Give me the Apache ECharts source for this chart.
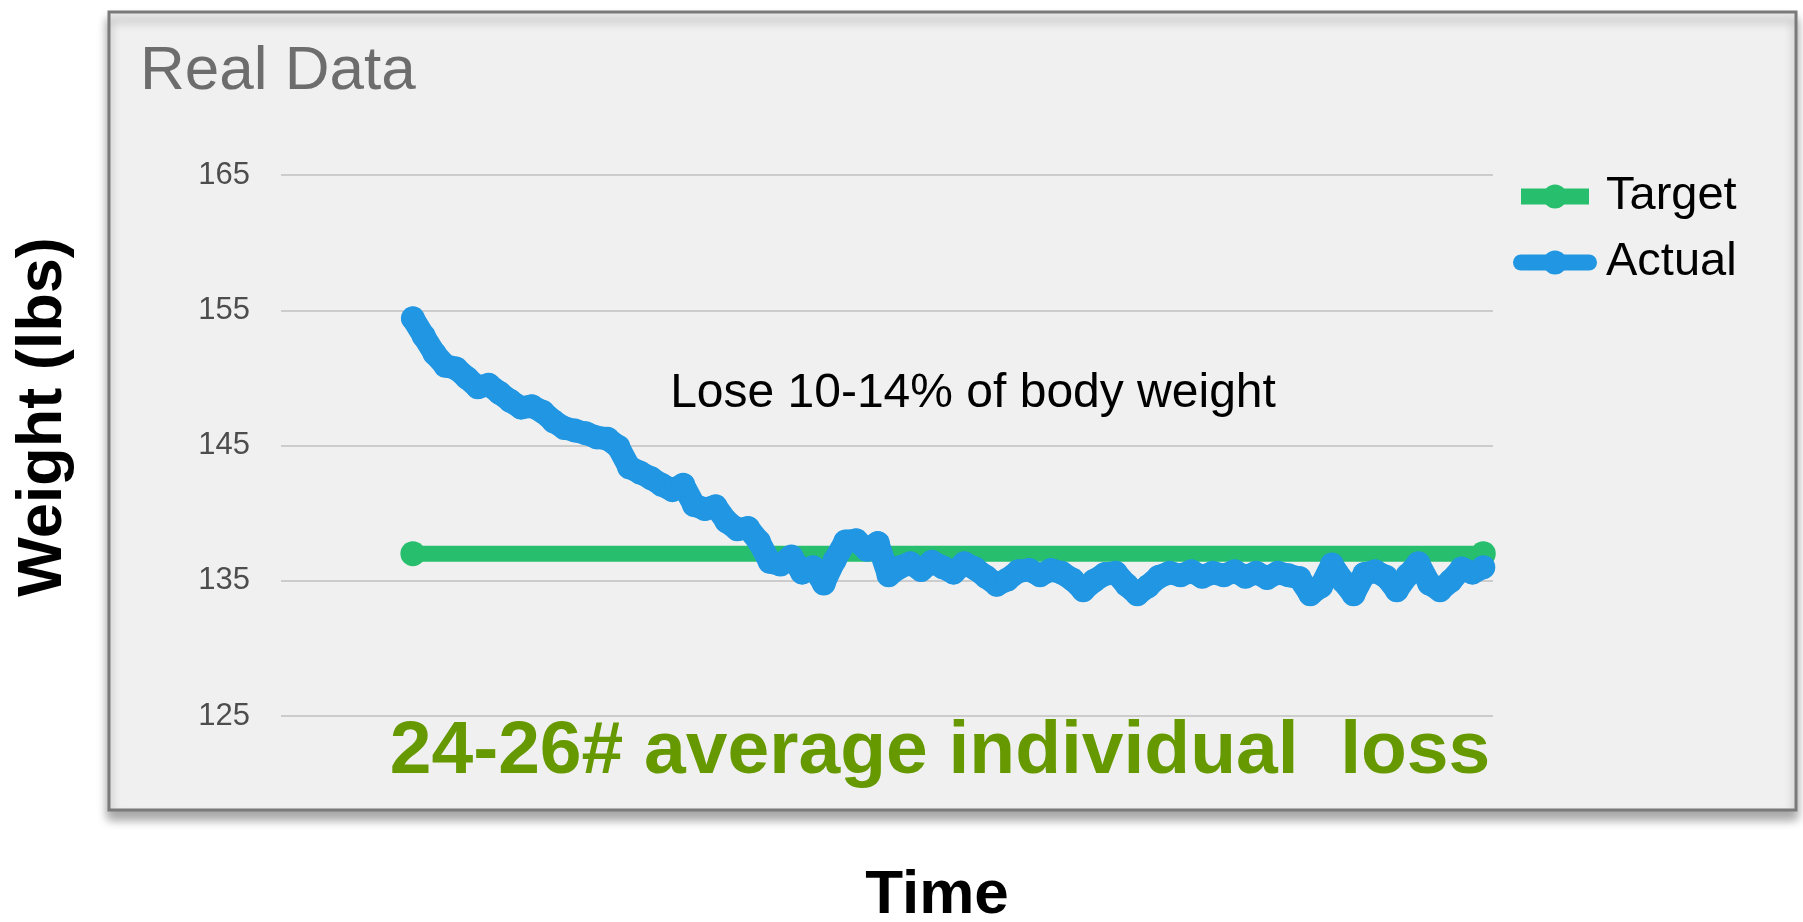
<!DOCTYPE html>
<html>
<head>
<meta charset="utf-8">
<title>Real Data</title>
<script src="https://cdn.jsdelivr.net/npm/echarts@6.0.0/dist/echarts.min.js"></script>
<style>
  html, body { margin: 0; padding: 0; background: #ffffff; }
  #main { width: 1803px; height: 922px; }
</style>
</head>
<body>
<div id="main"></div>
<script>
// weight readings, one per weigh-in
var actualWeights = [
  154.4, 153.1, 151.8, 150.9, 150.7, 150.0, 149.3, 149.5, 148.9, 148.3,
  147.8, 147.9, 147.5, 146.8, 146.3, 146.1, 145.9, 145.6, 145.5, 144.9,
  143.4, 143.0, 142.6, 142.1, 141.7, 142.1, 140.6, 140.3, 140.5, 139.4,
  138.8, 138.9, 137.9, 136.4, 136.2, 136.8, 135.6, 136.0, 134.8, 136.5,
  137.9, 138.0, 137.3, 137.8, 135.4, 136.0, 136.3, 135.8, 136.4, 136.0,
  135.6, 136.3, 135.9, 135.3, 134.7, 135.1, 135.7, 135.8, 135.4, 135.8,
  135.6, 135.1, 134.3, 135.0, 135.5, 135.6, 134.7, 134.0, 134.6, 135.3,
  135.6, 135.4, 135.7, 135.3, 135.6, 135.4, 135.7, 135.3, 135.6, 135.2,
  135.6, 135.4, 135.2, 134.0, 134.6, 136.2, 135.0, 134.0, 135.5, 135.7,
  135.3, 134.3, 135.4, 136.3, 134.8, 134.3, 135.0, 135.9, 135.6, 136.0
];
var targetDays = [0, 99];
var targetWeights = [137, 137];
var yTicks = [125, 135, 145, 155, 165];
var seriesNames = ["Target", "Actual"];

var FONT = "'Liberation Sans', Arial, sans-serif";

var chart = echarts.init(document.getElementById("main"));

var actualData = actualWeights.map(function (v, i) { return [i, v]; });
var targetData = targetDays.map(function (d, i) { return [d, targetWeights[i]]; });

chart.setOption({
  backgroundColor: "#ffffff",
  animation: false,
  grid: { left: 281, right: 310, top: 175, bottom: 206 },
  xAxis: {
    type: "value",
    min: -12.2,
    max: 99.9,
    show: false
  },
  yAxis: {
    type: "value",
    min: yTicks[0],
    max: yTicks[yTicks.length - 1],
    interval: 10,
    axisLine: { show: false },
    axisTick: { show: false },
    axisLabel: { fontSize: 31, color: "#4d4d4d", fontFamily: FONT, margin: 31 },
    splitLine: { lineStyle: { color: "#cccccc", width: 2 } }
  },
  legend: {
    orient: "vertical",
    left: 1508,
    top: 168,
    itemWidth: 68,
    itemHeight: 30,
    itemGap: 19,
    data: seriesNames,
    lineStyle: { width: 16 },
    textStyle: { fontSize: 47, color: "#000000", fontFamily: FONT, padding: [0, 0, 0, 12] }
  },
  graphic: [
    {
      type: "rect",
      z: -10,
      shape: { x: 109, y: 12, width: 1687, height: 798 },
      style: {
        fill: "#f0f0f0",
        stroke: "#7a7a7a",
        lineWidth: 3,
        shadowBlur: 10,
        shadowOffsetY: 8,
        shadowColor: "rgba(0,0,0,0.35)"
      }
    },
    {
      type: "text",
      left: 140,
      top: 41,
      style: { text: "Real Data", fontSize: 62, fill: "#6d6d6d", fontFamily: FONT }
    },
    {
      type: "text",
      x: 973,
      y: 394,
      style: {
        text: "Lose 10-14% of body weight",
        fontSize: 48, fill: "#000000", fontFamily: FONT,
        align: "center", verticalAlign: "middle"
      }
    },
    {
      type: "text",
      x: 940,
      y: 752,
      style: {
        text: "24-26# average individual  loss",
        fontSize: 75, fontWeight: "bold", fill: "#669900", fontFamily: FONT,
        align: "center", verticalAlign: "middle"
      }
    },
    {
      type: "text",
      x: 937,
      y: 896,
      style: {
        text: "Time",
        fontSize: 62, fontWeight: "bold", fill: "#000000", fontFamily: FONT,
        align: "center", verticalAlign: "middle"
      }
    },
    {
      type: "text",
      x: 44,
      y: 417,
      rotation: Math.PI / 2,
      style: {
        text: "Weight (lbs)",
        fontSize: 63, fontWeight: "bold", fill: "#000000", fontFamily: FONT,
        align: "center", verticalAlign: "middle"
      }
    }
  ],
  series: [
    {
      name: seriesNames[0],
      type: "line",
      data: targetData,
      symbol: "circle",
      symbolSize: 25,
      itemStyle: { color: "#27bf6d" },
      lineStyle: { color: "#27bf6d", width: 16 }
    },
    {
      name: seriesNames[1],
      type: "line",
      data: actualData,
      symbol: "circle",
      symbolSize: 24,
      itemStyle: { color: "#2196e3" },
      lineStyle: { color: "#2196e3", width: 23, join: "round", cap: "round" }
    }
  ]
});
</script>
</body>
</html>
